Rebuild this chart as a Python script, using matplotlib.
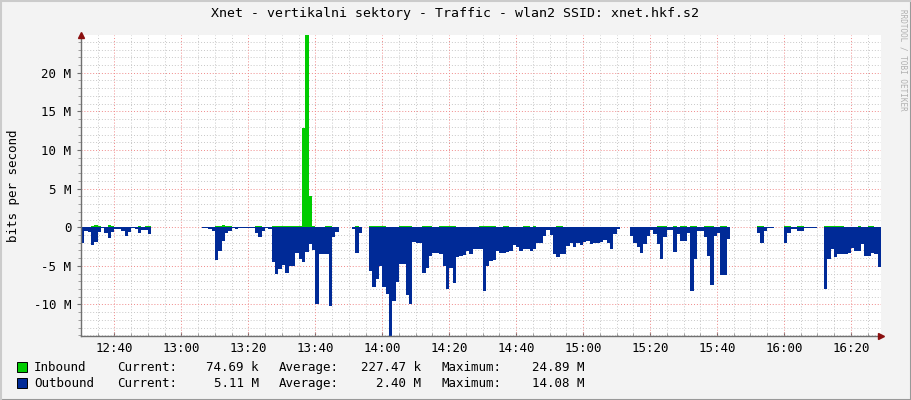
import numpy as np
import matplotlib
matplotlib.use("Agg")
import matplotlib.pyplot as plt
from matplotlib.lines import Line2D
from matplotlib.patches import Rectangle

nan = np.nan

# minutes since 12:30, one value per minute, in Mbit/s
outbound = [
    2.0, 0.5, 0.6, 2.3, 1.9, 0.6, 0.1, 0.7, 1.4, 0.6,
    0.2, 0.2, 0.5, 1.1, 0.6, 0.1, 0.2, 0.8, 0.3, 0.4,
    0.9, nan, nan, nan, nan, nan, nan, nan, nan, nan,
    nan, nan, nan, nan, nan, nan, 0.1, 0.1, 0.2, 0.5,
    4.2, 3.1, 1.8, 0.7, 0.5, 0.1, 0.2, 0.1, 0.1, 0.1,
    0.1, 0.1, 0.7, 1.3, 0.5, 0.1, 0.2, 4.5, 6.1, 5.4,
    4.9, 5.9, 5.0, 5.0, 3.3, 4.1, 4.5, 3.2, 2.2, 3.0,
    10.0, 3.4, 3.4, 3.4, 10.2, 1.3, 0.6, nan, nan, nan,
    nan, 0.2, 3.3, 0.7, nan, nan, 5.6, 7.8, 6.7, 5.0,
    7.7, 8.7, 14.08, 9.5, 7.1, 4.8, 4.8, 8.8, 10.0, 1.9,
    2.0, 2.0, 5.9, 5.3, 3.7, 3.3, 3.3, 3.4, 5.0, 8.0,
    5.3, 7.2, 3.8, 3.7, 3.6, 3.1, 3.5, 2.8, 2.8, 2.8,
    8.2, 5.0, 4.4, 4.3, 3.1, 3.3, 3.3, 3.2, 3.1, 2.3,
    2.5, 3.1, 2.8, 2.8, 3.1, 2.8, 2.0, 2.0, 1.1, 0.3,
    1.0, 3.5, 3.8, 3.5, 3.4, 2.4, 2.0, 2.5, 2.0, 2.3,
    1.9, 1.8, 2.2, 2.0, 2.1, 1.9, 1.6, 2.0, 2.8, 0.9,
    0.2, nan, nan, nan, 1.1, 2.0, 2.5, 3.3, 2.2, 1.1,
    0.3, 0.9, 2.2, 4.1, 1.3, 0.3, 0.3, 3.2, 0.9, 1.8,
    1.8, 0.7, 8.2, 4.1, 0.5, 0.5, 1.3, 3.7, 7.5, 1.1,
    0.7, 6.2, 6.2, 1.5, nan, nan, nan, nan, nan, nan,
    nan, nan, 0.7, 2.1, 0.5, 0.1, 0.1, nan, nan, nan,
    2.1, 0.7, 0.2, 0.2, 0.5, 0.5, 0.1, 0.1, 0.1, 0.1,
    nan, nan, 8.0, 4.1, 2.8, 3.8, 3.4, 3.4, 3.4, 3.3,
    2.7, 3.1, 3.1, 2.2, 3.7, 3.7, 3.3, 3.4, 5.11,
]

inbound = [
    0.02, 0.02, 0.02, 0.1, 0.25, 0.2, 0.02, 0.02, 0.3, 0.2,
    0.02, 0.02, 0.02, 0.02, 0.02, 0.02, 0.02, 0.15, 0.02, 0.2,
    0.2, nan, nan, nan, nan, nan, nan, nan, nan, nan,
    nan, nan, nan, nan, nan, nan, 0.02, 0.02, 0.02, 0.02,
    0.15, 0.15, 0.3, 0.2, 0.15, 0.02, 0.02, 0.02, 0.02, 0.02,
    0.02, 0.02, 0.2, 0.2, 0.02, 0.02, 0.02, 0.1, 0.1, 0.1,
    0.1, 0.1, 0.1, 0.1, 0.1, 0.1, 12.8, 24.89, 4.0, 0.1,
    0.02, 0.02, 0.02, 0.15, 0.15, 0.02, 0.02, nan, nan, nan,
    nan, 0.02, 0.15, 0.02, nan, nan, 0.1, 0.1, 0.1, 0.1,
    0.1, 0.02, 0.02, 0.02, 0.02, 0.1, 0.1, 0.1, 0.1, 0.02,
    0.02, 0.02, 0.1, 0.1, 0.1, 0.02, 0.02, 0.1, 0.1, 0.1,
    0.1, 0.1, 0.02, 0.02, 0.02, 0.02, 0.02, 0.02, 0.02, 0.1,
    0.1, 0.1, 0.1, 0.1, 0.02, 0.02, 0.1, 0.1, 0.02, 0.02,
    0.02, 0.02, 0.15, 0.15, 0.02, 0.15, 0.02, 0.02, 0.02, 0.02,
    0.02, 0.02, 0.15, 0.15, 0.02, 0.02, 0.02, 0.02, 0.02, 0.02,
    0.02, 0.02, 0.02, 0.02, 0.02, 0.02, 0.02, 0.02, 0.02, 0.02,
    0.02, nan, nan, nan, 0.02, 0.02, 0.02, 0.02, 0.02, 0.02,
    0.02, 0.02, 0.15, 0.15, 0.15, 0.02, 0.02, 0.15, 0.02, 0.15,
    0.15, 0.02, 0.15, 0.15, 0.02, 0.02, 0.15, 0.15, 0.15, 0.02,
    0.02, 0.15, 0.15, 0.02, nan, nan, nan, nan, nan, nan,
    nan, nan, 0.15, 0.15, 0.02, 0.02, 0.02, nan, nan, nan,
    0.15, 0.15, 0.02, 0.02, 0.15, 0.15, 0.02, 0.02, 0.02, 0.02,
    nan, nan, 0.15, 0.15, 0.15, 0.15, 0.15, 0.15, 0.02, 0.02,
    0.02, 0.02, 0.15, 0.02, 0.02, 0.15, 0.15, 0.02, 0.075,
]

time_labels = ["12:40", "13:00", "13:20", "13:40", "14:00", "14:20", "14:40",
               "15:00", "15:20", "15:40", "16:00", "16:20"]
y_ticks = [-10, -5, 0, 5, 10, 15, 20]
y_labels = ["-10 M", "-5 M", "0", "5 M", "10 M", "15 M", "20 M"]

legend_rows = [
    ("Inbound", "74.69 k", "227.47 k", "24.89 M", "#00CC00"),
    ("Outbound", "5.11 M", "2.40 M", "14.08 M", "#002A97"),
]

title = "Xnet - vertikalni sektory - Traffic - wlan2 SSID: xnet.hkf.s2"

W, H = 911, 400
mono = "DejaVu Sans Mono"
BACK = "#F3F3F3"


def runs(v):
    # contiguous stretches without gaps
    out = []
    start = None
    for i, x in enumerate(v):
        if np.isnan(x):
            if start is not None:
                out.append((start, i))
                start = None
        elif start is None:
            start = i
    if start is not None:
        out.append((start, len(v)))
    return out


def area(ax, vals, sign, color):
    v = np.array(vals, dtype=float)
    for s, e in runs(v):
        xs = np.arange(s, e + 1)
        ys = np.append(v[s:e], v[e - 1]) * sign
        ax.fill_between(xs, 0, ys, step="post", color=color, linewidth=0, zorder=3)


fig = plt.figure(figsize=(W / 100, H / 100), dpi=100)
fig.patch.set_facecolor(BACK)

ax = fig.add_axes([81 / W, 1 - 336 / H, 800 / W, 301 / H])
ax.set_facecolor("white")

ax.set_xlim(0, 239)
ax.set_ylim(-14.08, 24.89)

area(ax, inbound, 1, "#00CC00")
area(ax, outbound, -1, "#002A97")

# grid
minor_x = np.arange(5, 239, 5)
major_x = np.arange(10, 239, 20)
for x in minor_x:
    if x not in major_x:
        ax.axvline(x, color="#C8C8C8", lw=0.7, ls=(0, (1, 2)), zorder=1)
for y in range(-14, 25):
    if y % 5:
        ax.axhline(y, color="#C8C8C8", lw=0.7, ls=(0, (1, 2)), zorder=1)
for x in major_x:
    ax.axvline(x, color="#F08A8A", lw=0.7, ls=(0, (1, 2)), zorder=2)
for y in y_ticks:
    ax.axhline(y, color="#F08A8A", lw=0.7, ls=(0, (1, 2)), zorder=2)

for sp in ["top", "right"]:
    ax.spines[sp].set_visible(False)
for sp in ["left", "bottom"]:
    ax.spines[sp].set_color("#707070")
    ax.spines[sp].set_linewidth(1.0)
    ax.spines[sp].set_zorder(5)

ax.set_xticks(major_x)
ax.set_xticklabels(time_labels, fontsize=9, family=mono)
ax.set_xticks(minor_x, minor=True)
ax.set_yticks(y_ticks)
ax.set_yticklabels(y_labels, fontsize=9, family=mono)
ax.set_yticks(np.arange(-14, 25), minor=True)
ax.tick_params(axis="both", which="major", length=3, color="#707070", pad=4)
ax.tick_params(axis="both", which="minor", length=2, color="#909090")
ax.tick_params(axis="x", which="both", direction="in")
ax.tick_params(axis="y", which="both", direction="out")

ax.set_ylabel("bits per second", fontsize=9, family=mono, labelpad=10)

# axis arrows
ax.plot([0], [1.0], transform=ax.transAxes, marker="^", ms=5, color="#8B1010",
        clip_on=False, zorder=6)
ax.plot([1.0], [0], transform=ax.transAxes, marker=">", ms=5, color="#8B1010",
        clip_on=False, zorder=6)

fig.text(455 / W, 1 - 13 / H, title, ha="center", va="center",
         fontsize=9.5, family=mono)
fig.text(903 / W, 1 - 60 / H, "RRDTOOL / TOBI OETIKER", rotation=270,
         ha="center", va="center", fontsize=5.5, family=mono, color="#B0B0B0")

for i, (name, cur, avg, mx, col) in enumerate(legend_rows):
    yc = 1 - (367 + 16 * i) / H
    yb = 1 - (371 + 16 * i) / H
    fig.patches.append(Rectangle((17 / W, yc - 5 / H), 10 / W, 10 / H,
                                 transform=fig.transFigure, facecolor=col,
                                 edgecolor="black", lw=0.7))
    kw = dict(va="baseline", fontsize=9, family=mono)
    fig.text(34 / W, yb, name, ha="left", **kw)
    fig.text(117 / W, yb, "Current:", ha="left", **kw)
    fig.text(259 / W, yb, cur, ha="right", **kw)
    fig.text(279 / W, yb, "Average:", ha="left", **kw)
    fig.text(421 / W, yb, avg, ha="right", **kw)
    fig.text(441 / W, yb, "Maximum:", ha="left", **kw)
    fig.text(584 / W, yb, mx, ha="right", **kw)

# 3d frame of the canvas
fig.add_artist(Line2D([0, 1], [0.5 / H, 0.5 / H], color="#999999", lw=1.5))
fig.add_artist(Line2D([1 - 0.5 / W, 1 - 0.5 / W], [0, 1], color="#999999", lw=1.5))
fig.add_artist(Line2D([0, 1], [1 - 0.5 / H, 1 - 0.5 / H], color="#CBCBCB", lw=1.5))
fig.add_artist(Line2D([0.5 / W, 0.5 / W], [0, 1], color="#CBCBCB", lw=1.5))

fig.savefig("out.png", dpi=100, facecolor=BACK)
